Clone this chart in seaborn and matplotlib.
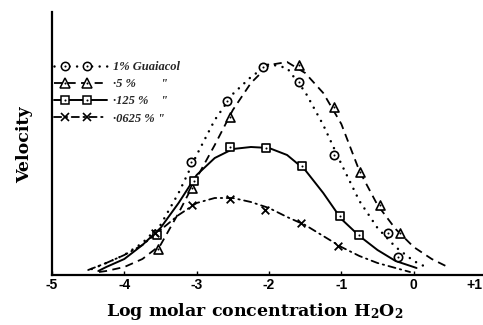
import numpy as np
import pandas as pd
import seaborn as sns
import matplotlib
matplotlib.use("Agg")
import matplotlib.pyplot as plt
import matplotlib.transforms as mtransforms
from matplotlib.lines import Line2D
from matplotlib.legend_handler import HandlerLine2D

# ---------------- data ----------------
# smooth fitted curves
c1_x = [-4.45, -4.25, -4.0, -3.75, -3.5, -3.25, -3.0, -2.75, -2.5, -2.25, -2.0,
        -1.75, -1.5, -1.25, -1.0, -0.75, -0.5, -0.25, 0.0, 0.17]
c1_v = [6, 12, 20, 32, 50, 82, 120, 155, 181, 198, 211,
        207, 183, 150, 111, 74, 47, 28, 14, 8]

c5_x = [-4.35, -4.25, -4.0, -3.75, -3.5, -3.25, -3.0, -2.75, -2.5, -2.25, -2.0,
        -1.75, -1.5, -1.25, -1.0, -0.75, -0.5, -0.25, 0.0, 0.25, 0.5]
c5_v = [3, 4, 8, 16, 30, 62, 97, 130, 165, 192, 210,
        213, 202, 182, 151, 104, 70, 46, 28, 16, 7]

c125_x = [-4.36, -4.25, -4.0, -3.75, -3.5, -3.25, -3.0, -2.75, -2.5, -2.25, -2.0,
          -1.75, -1.5, -1.25, -1.0, -0.75, -0.5, -0.25, 0.0, 0.04]
c125_v = [4, 8, 16, 30, 47, 72, 100, 117, 126, 128, 127,
          120, 105, 82, 56, 39, 25, 14, 8, 7]

c0625_x = [-4.5, -4.25, -4.0, -3.75, -3.5, -3.25, -3.0, -2.75, -2.5, -2.25, -2.0,
           -1.75, -1.5, -1.25, -1.0, -0.75, -0.5, -0.25, -0.05]
c0625_v = [5, 12, 20, 30, 45, 60, 72, 77, 77, 73, 67,
           58, 50, 39, 28, 19, 12, 7, 3]

# observed points
p1_x = [-3.08, -2.58, -2.08, -1.59, -1.10, -0.35, -0.21]
p1_v = [113, 174, 208, 193, 120, 42, 18]
p5_x = [-3.54, -3.06, -2.54, -1.58, -1.10, -0.74, -0.47, -0.19]
p5_v = [26, 87, 158, 210, 168, 103, 70, 42]
p125_x = [-3.55, -3.04, -2.54, -2.04, -1.55, -1.02, -0.76]
p125_v = [40, 94, 128, 127, 109, 59, 40]
p0625_x = [-3.58, -3.06, -2.54, -2.06, -1.56, -1.05]
p0625_v = [42, 70, 76, 65, 52, 29]

labels = ["1% Guaiacol", "·5 %        \"", "·125 %    \"", "·0625 % \""]
x_ticks = [-5, -4, -3, -2, -1, 0, 1]
x_tick_labels = ["-5", "-4", "-3", "-2", "-1", "0", "+1"]

# ---------------- style ----------------
sns.set_theme(style="white")
plt.rcParams["font.family"] = ["DejaVu Serif"]
plt.rcParams["axes.unicode_minus"] = False
plt.rcParams["mathtext.fontset"] = "dejavuserif"

W, H = 483, 325
fig = plt.figure(figsize=(W / 100, H / 100), dpi=100)
ax = fig.add_axes([52 / W, (H - 275) / H, 434 / W, 263 / H])

styles = [
    dict(linestyle=(0, (0.01, 3.0)), linewidth=1.8, dash_capstyle="round"),
    dict(linestyle=(0, (4.5, 3.0)), linewidth=1.3),
    dict(linestyle="-", linewidth=1.4),
    dict(linestyle=(0, (4.0, 2.5, 0.8, 2.5)), linewidth=1.3, dash_capstyle="round"),
]
markers = [("o", 6.0), ("^", 6.5), ("s", 5.6), ("x", 5.5)]

curves = [(c1_x, c1_v), (c5_x, c5_v), (c125_x, c125_v), (c0625_x, c0625_v)]
points = [(p1_x, p1_v), (p5_x, p5_v), (p125_x, p125_v), (p0625_x, p0625_v)]

for (cx, cv), st in zip(curves, styles):
    df = pd.DataFrame({"x": cx, "v": cv})
    sns.lineplot(data=df, x="x", y="v", ax=ax, color="black", sort=False,
                 estimator=None, **st)

for i, ((px, pv), (m, ms)) in enumerate(zip(points, markers)):
    df = pd.DataFrame({"x": px, "v": pv})
    if m == "x":
        sns.scatterplot(data=df, x="x", y="v", ax=ax, marker="x", s=ms ** 2,
                        color="black", linewidth=1.3, zorder=4)
    else:
        sns.scatterplot(data=df, x="x", y="v", ax=ax, marker=m, s=ms ** 2,
                        facecolor="white", edgecolor="black", linewidth=1.2,
                        zorder=4)
        sns.scatterplot(data=df, x="x", y="v", ax=ax, marker="o", s=2.2,
                        color="black", linewidth=0, zorder=5)

ax.set_xlim(-5, 1)
ax.set_ylim(0, 263)
ax.set_yticks([])
ax.set_xticks(x_ticks, labels=x_tick_labels)
ax.tick_params(axis="x", bottom=True, direction="in", length=3, width=1.0,
               color="black", pad=2.5, labelcolor="black")
for lbl in ax.get_xticklabels():
    lbl.set_fontfamily("Liberation Sans")
    lbl.set_fontweight("bold")
    lbl.set_fontsize(10)
last = ax.get_xticklabels()[-1]
last.set_transform(last.get_transform() +
                   mtransforms.ScaledTranslation(-0.12, 0, fig.dpi_scale_trans))

for s in ["top", "right"]:
    ax.spines[s].set_visible(False)
for s in ["left", "bottom"]:
    ax.spines[s].set_color("black")
    ax.spines[s].set_linewidth(1.6)

ax.set_xlabel(r"Log molar concentration H$_{\mathbf{2}}$O$_{\mathbf{2}}$",
              fontsize=12.5, fontweight="bold", color="black")
ax.set_ylabel("Velocity", fontsize=12.5, fontweight="bold", color="black")
ax.xaxis.set_label_coords((255 - 52) / 434, -(301 - 275) / 263)
ax.yaxis.set_label_coords((33 - 52) / 434, (275 - 145) / 263)


# ---------------- legend ----------------
class TwoMarkHandler(HandlerLine2D):
    def create_artists(self, legend, orig_handle, xdescent, ydescent,
                       width, height, fontsize, trans):
        x0 = -xdescent
        xdata = x0 + width * np.array([0.0, 0.2, 0.62, 1.0])
        ydata = np.full_like(xdata, (height - ydescent) / 2)
        line = Line2D(xdata, ydata)
        self.update_prop(line, orig_handle, legend)
        line.set_markevery([1, 2])
        line.set_transform(trans)
        return [line]


handles = []
for st, (m, ms) in zip(styles, markers):
    if m == "x":
        h = Line2D([], [], color="black", marker="x", markersize=ms,
                   markeredgewidth=1.2, **st)
        handles.append(h)
    else:
        h = Line2D([], [], color="black", marker=m, markersize=ms,
                   markerfacecolor="white", markeredgecolor="black",
                   markeredgewidth=1.1, **st)
        d = Line2D([], [], color="black", linestyle="none", marker="o",
                   markersize=1.5, markeredgewidth=0)
        handles.append((h, d))

leg = ax.legend(handles, labels, loc="upper left",
                bbox_to_anchor=(2 / 434, (275 - 61) / 263),
                frameon=False, handlelength=4.2, handletextpad=0.5,
                labelspacing=0.42, borderpad=0, borderaxespad=0,
                handler_map={Line2D: TwoMarkHandler()},
                prop=dict(family="Liberation Serif", style="italic",
                          weight="bold", size=9))

fig.savefig("out.png", dpi=100)
